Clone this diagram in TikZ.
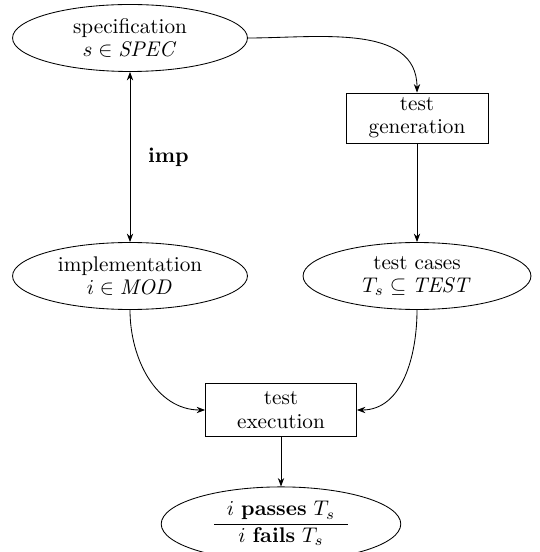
\documentclass[tikz,border=0pt]{standalone}
\usepackage{tikz}
\usetikzlibrary{positioning,shapes,arrows.meta}
\tikzstyle{ell}=[%
      ellipse, draw=black, align=center, inner sep=1pt,
      minimum width=110.8pt, minimum height=31.6pt
]
\tikzstyle{act}=[%
      rectangle, draw=black, align=center, inner sep=2pt,
      minimum width=67pt, minimum height=23.6pt
]
\tikzstyle{arr}=[-{Stealth[length=4pt,width=3pt]}]

\begin{document}
\begin{tikzpicture}[x=0.4717pt, y=-0.4717pt]
    \useasboundingbox (0,0) rectangle (540,552);

    \node[ell]   (spec)    at (130,38)  {specification\\[-1pt] $s \in \mathit{SPEC}$};
    \node[act]   (testgen) at (417,118) {test\\[-1pt] generation};
    \node[ell]   (impl)    at (130,276) {implementation\\[-1pt] $i \in \mathit{MOD}$};
    \node[ell, minimum width=107.5pt] (tcases) at (417,276) {test cases\\[-1pt] $T_s \subseteq \mathit{TEST}$};
    \node[act, minimum width=71.2pt, minimum height=25pt] (exec) at (281,410) {test\\[-1pt] execution};
    \node[ell, minimum width=113pt, minimum height=35pt, inner sep=0pt] (result) at (281,524)
        {\begin{tabular}{c}$i$ \textbf{passes} $T_s$\\ \hline $i$ \textbf{fails} $T_s$\end{tabular}};

    % connectors
    \draw[arr] (spec.east) to[out=0, in=90] (testgen.north);
    \draw[{Stealth[length=4pt,width=3pt]}-{Stealth[length=4pt,width=3pt]}] (spec) -- node[right, xshift=5pt] {\textbf{imp}} (impl);
    \draw[arr] (testgen) -- (tcases);
    \draw[arr] (impl.south) to[out=-90, in=180] (exec.west);
    \draw[arr] (tcases.south) to[out=-90, in=0] (exec.east);
    \draw[arr] (exec) -- (result);
\end{tikzpicture}
\end{document}
